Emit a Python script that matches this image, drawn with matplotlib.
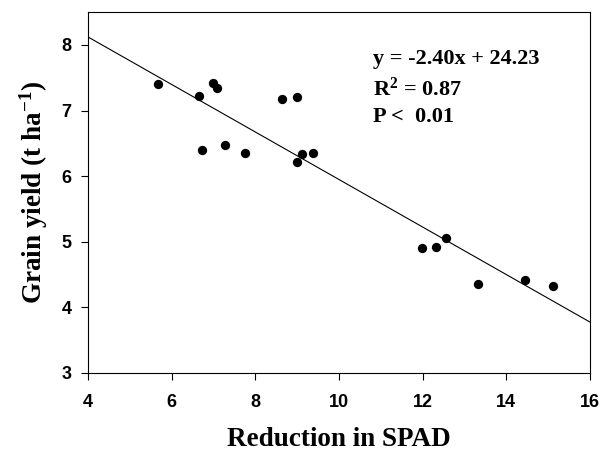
import matplotlib
matplotlib.use("Agg")
import matplotlib.pyplot as plt
import numpy as np

plt.rcParams['mathtext.fontset'] = 'custom'
plt.rcParams['mathtext.rm'] = 'Liberation Serif:bold'
plt.rcParams['mathtext.bf'] = 'Liberation Serif:bold'
plt.rcParams['mathtext.it'] = 'Liberation Serif:bold'

reduction_spad = [5.67, 6.65, 6.98, 7.09, 6.73, 7.27, 7.75, 8.63, 8.99, 8.99, 9.12, 9.37,
                  11.98, 12.33, 12.56, 13.32, 14.45, 15.13]
grain_yield = [7.41, 7.22, 7.42, 7.34, 6.40, 6.47, 6.36, 7.17, 7.21, 6.22, 6.34, 6.36,
               4.90, 4.92, 5.05, 4.35, 4.41, 4.33]
line_slope = -0.362
line_intercept = 9.57
x_ticks = [4, 6, 8, 10, 12, 14, 16]
y_ticks = [3, 4, 5, 6, 7, 8]

fig = plt.figure(figsize=(6.03, 4.51), dpi=100)
ax = fig.add_axes([0.146, 0.173, 0.832, 0.800])

ax.scatter(reduction_spad, grain_yield, s=45, color='black', zorder=3, linewidths=0)
xl = np.array([4, 16])
ax.plot(xl, line_slope * xl + line_intercept, color='black', lw=0.8)

ax.set_xlim(4, 16)
ax.set_ylim(3, 8.5)
ax.set_xticks(x_ticks)
ax.set_yticks(y_ticks)
ax.tick_params(direction='out', length=5, width=0.8, labelsize=13)
ax.tick_params(axis='x', pad=10)
ax.tick_params(axis='y', pad=7)
for lab in ax.get_xticklabels() + ax.get_yticklabels():
    lab.set_fontfamily('Liberation Sans')
    lab.set_fontweight('bold')
for s in ax.spines.values():
    s.set_linewidth(0.8)

ax.set_xlabel('Reduction in SPAD', fontfamily='Liberation Serif', fontweight='bold',
              fontsize=19.5, labelpad=12)
ax.set_ylabel(r'Grain yield (t ha$^{-1}$)', fontfamily='Liberation Serif',
              fontweight='bold', fontsize=19.5, labelpad=8)

txt = 'y = -2.40x + 24.23\nR$^{2}$ = 0.87\nP <  0.01'
ax.text(0.568, 0.897, txt, transform=ax.transAxes, va='top', ha='left',
        fontfamily='Liberation Serif', fontweight='bold', fontsize=16, linespacing=1.45)

fig.savefig('out.png', dpi=100)
